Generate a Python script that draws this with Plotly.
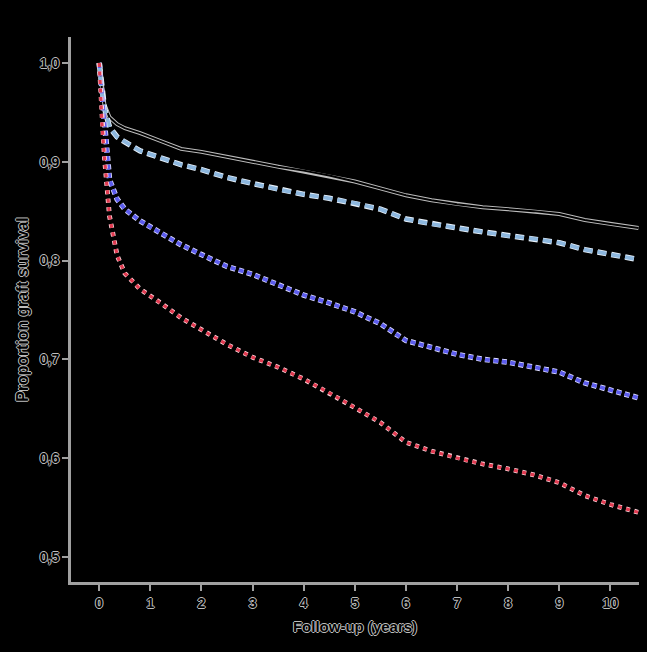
import plotly.graph_objects as go

years = [0, 0.05, 0.1, 0.2, 0.35, 0.5, 0.8, 1.2, 1.6, 2.0, 2.5, 3.0, 3.5, 4.0, 4.5,
         5.0, 5.5, 6.0, 6.5, 7.0, 7.5, 8.0, 8.5, 9.0, 9.5, 10.0, 10.55]

surv_black = [1.0, 0.975, 0.958, 0.945, 0.938, 0.934, 0.929, 0.921, 0.913, 0.910, 0.905,
              0.900, 0.895, 0.891, 0.886, 0.880, 0.873, 0.866, 0.861, 0.857, 0.854,
              0.852, 0.850, 0.847, 0.841, 0.837, 0.833]
surv_lightblue = [1.0, 0.970, 0.955, 0.935, 0.925, 0.920, 0.911, 0.904, 0.897, 0.892,
                  0.884, 0.878, 0.872, 0.867, 0.863, 0.858, 0.852, 0.842, 0.837, 0.833,
                  0.829, 0.825, 0.822, 0.818, 0.811, 0.806, 0.801]
surv_blue = [1.0, 0.972, 0.935, 0.882, 0.862, 0.852, 0.840, 0.828, 0.816, 0.806, 0.794,
             0.786, 0.776, 0.765, 0.757, 0.748, 0.736, 0.719, 0.712, 0.705, 0.700,
             0.697, 0.692, 0.687, 0.676, 0.669, 0.661]
surv_red = [1.0, 0.940, 0.905, 0.845, 0.805, 0.787, 0.771, 0.757, 0.742, 0.730, 0.715,
            0.702, 0.692, 0.680, 0.666, 0.651, 0.636, 0.616, 0.607, 0.600, 0.594,
            0.589, 0.583, 0.575, 0.562, 0.553, 0.545]

x_ticks = [0, 1, 2, 3, 4, 5, 6, 7, 8, 9, 10]
y_ticks = [0.5, 0.6, 0.7, 0.8, 0.9, 1.0]

outline = "1px 0 0 #bdbdbd, -1px 0 0 #bdbdbd, 0 1px 0 #bdbdbd, 0 -1px 0 #bdbdbd"
font_base = dict(family="Liberation Sans, Arial, sans-serif", color="#000000",
                 weight="bold", shadow=outline)

fig = go.Figure()

# black solid with light outline
fig.add_trace(go.Scatter(x=years, y=surv_black, mode="lines",
                         line=dict(color="#bdbdbd", width=4), hoverinfo="skip", showlegend=False))
fig.add_trace(go.Scatter(x=years, y=surv_black, mode="lines",
                         line=dict(color="#000000", width=2), showlegend=False))

# light blue dashed
fig.add_trace(go.Scatter(x=years, y=surv_lightblue, mode="lines",
                         line=dict(color="#e8f1fa", width=5.5, dash="9px,5px"),
                         hoverinfo="skip", showlegend=False))
fig.add_trace(go.Scatter(x=years, y=surv_lightblue, mode="lines",
                         line=dict(color="#8db7de", width=3.8, dash="9px,5px"), showlegend=False))

# blue dotted
fig.add_trace(go.Scatter(x=years, y=surv_blue, mode="lines",
                         line=dict(color="#dcdcff", width=5.5, dash="5px,3.5px"),
                         hoverinfo="skip", showlegend=False))
fig.add_trace(go.Scatter(x=years, y=surv_blue, mode="lines",
                         line=dict(color="#5c5cec", width=3.8, dash="5px,3.5px"), showlegend=False))

# red dotted
fig.add_trace(go.Scatter(x=years, y=surv_red, mode="lines",
                         line=dict(color="#ffd8de", width=4.8, dash="4px,4.5px"),
                         hoverinfo="skip", showlegend=False))
fig.add_trace(go.Scatter(x=years, y=surv_red, mode="lines",
                         line=dict(color="#e03a50", width=3.2, dash="4px,4.5px"), showlegend=False))

fig.update_layout(
    width=647, height=652,
    paper_bgcolor="#000000", plot_bgcolor="#000000",
    margin=dict(l=71, r=8, t=37, b=70),
    separators=", ",
    showlegend=False,
    xaxis=dict(
        range=[-0.553, 10.56], tickmode="array", tickvals=x_ticks,
        showgrid=False, zeroline=False, showline=True, linecolor="#a0a0a0", linewidth=3,
        ticks="outside", ticklen=6, tickwidth=2, tickcolor="#a0a0a0",
        tickfont=dict(size=14, **font_base),
        title=dict(text="Follow-up (years)", font=dict(size=15, **font_base), standoff=12),
    ),
    yaxis=dict(
        range=[0.4745, 1.0263], tickmode="array", tickvals=y_ticks, tickformat=".1f",
        showgrid=False, zeroline=False, showline=True, linecolor="#a0a0a0", linewidth=3,
        ticks="outside", ticklen=6, tickwidth=2, tickcolor="#a0a0a0",
        tickfont=dict(size=14, **font_base),
        title=dict(text="Proportion graft survival", font=dict(size=15.8, **font_base), standoff=8),
    ),
)

fig.write_html("out.html", config={"displayModeBar": False},
               post_script="document.body.style.margin='0';document.body.style.background='#000';")
